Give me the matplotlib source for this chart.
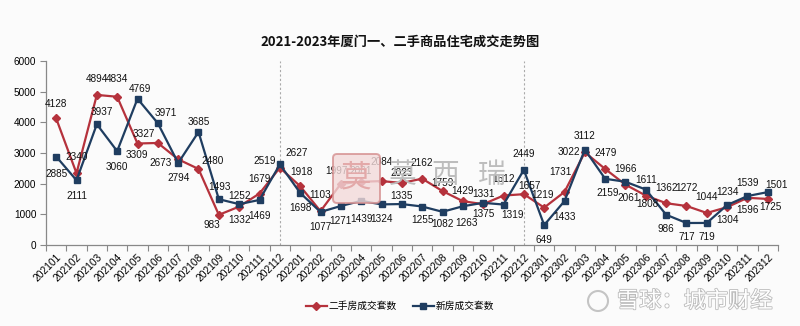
import matplotlib
matplotlib.use("Agg")
import matplotlib.pyplot as plt
import matplotlib.patheffects as pe
from matplotlib.patches import FancyBboxPatch

plt.rcParams['font.family'] = ['Liberation Sans', 'Noto Sans CJK SC', 'DejaVu Sans']

months = ['202101', '202102', '202103', '202104', '202105', '202106', '202107', '202108',
          '202109', '202110', '202111', '202112',
          '202201', '202202', '202203', '202204', '202205', '202206', '202207', '202208',
          '202209', '202210', '202211', '202212',
          '202301', '202302', '202303', '202304', '202305', '202306', '202307', '202308',
          '202309', '202310', '202311', '202312']

second_hand = [4128, 2340, 4894, 4834, 3309, 3327, 2794, 2480, 983, 1252, 1679, 2519,
               1918, 1103, 1997, 2061, 2084, 2023, 2162, 1759, 1429, 1331, 1612, 1657,
               1219, 1731, 3022, 2479, 1966, 1611, 1362, 1272, 1044, 1234, 1539, 1501]

new_home = [2885, 2111, 3937, 3060, 4769, 3971, 2673, 3685, 1493, 1332, 1469, 2627,
            1698, 1077, 1271, 1439, 1324, 1335, 1255, 1082, 1263, 1375, 1319, 2449,
            649, 1433, 3112, 2159, 2061, 1808, 986, 717, 719, 1304, 1596, 1725]

y_ticks = [0, 1000, 2000, 3000, 4000, 5000, 6000]

title = '2021-2023年厦门一、二手商品住宅成交走势图'
name_second = '二手房成交套数'
name_new = '新房成交套数'

# label offsets in pixels (dx, dy) - layout only
off_second = [(0, 14), (0, 16), (0, 16), (0, 18), (-1, -11), (-14, 9), (0, -19), (14, 8),
              (-7, -10), (0, 11), (0, 15), (-15, 7),
              (1, 14), (0, 16), (-4, 13), (0, 11), (0, 19), (0, 10), (0, 16), (0, 8),
              (0, 10), (0, 10), (0, 17), (6, 8),
              (-2, 13), (-4, 20), (-16, 0), (0, 16), (0, 16), (0, 16), (0, 15), (0, 18),
              (0, 16), (0, 15), (0, 15), (9, 14)]
off_new = [(0, -17), (0, -16), (5, 12), (0, -16), (2, 10), (8, 10), (-18, 0), (0, 10),
           (1, 12), (0, -16), (0, -16), (17, 11),
           (0, -15), (0, -15), (0, -15), (0, -18), (0, -15), (0, 8), (0, -13), (0, -12),
           (4, -17), (0, -11), (9, -10), (0, 16),
           (0, -15), (0, -16), (0, 14), (3, -14), (3, -16), (2, -14), (0, -14), (0, -14),
           (0, -14), (0, -15), (0, -14), (3, -15)]

RED = '#B5323C'
BLUE = '#1F3D60'
BG = '#FBFBFB'
H = 326

fig = plt.figure(figsize=(8.0, 3.26), dpi=100, facecolor=BG)
ax = fig.add_axes([0.0575, 0.2485, 0.915, 0.5644])
ax.set_facecolor(BG)

x = list(range(len(months)))

# watermark (center)
stamp = FancyBboxPatch((333, H - 203), 47, 49, boxstyle='round,pad=0,rounding_size=4',
                       transform=None, facecolor='#F3DADA', edgecolor='#D58F8F',
                       lw=1.4, alpha=0.8, zorder=0)
fig.patches.append(stamp)
fig.text(356.5 / 800, 1 - 178 / H, '莫', ha='center', va='center', fontsize=22,
         color='#E3A9A9', family=['Noto Sans CJK SC'], zorder=0)
for cx, ch in zip([403, 445, 492], ['莫', '西', '瑞']):
    fig.text(cx / 800, 1 - 175 / H, ch, ha='center', va='center', fontsize=20,
             color='#BDBDBD', family=['Noto Sans CJK SC'], zorder=0)

# dashed year separators
for idx in (11, 23):
    ax.axvline(idx, color='#AAAAAA', lw=0.8, ls=(0, (2, 2)), zorder=1)

ax.plot(x, second_hand, color=RED, lw=1.6, marker='D', markersize=3.6,
        markerfacecolor=RED, markeredgecolor=RED, label=name_second, zorder=3)
ax.plot(x, new_home, color=BLUE, lw=1.6, marker='s', markersize=4.6,
        markerfacecolor=BLUE, markeredgecolor=BLUE, label=name_new, zorder=4)

for i in x:
    ax.annotate(str(second_hand[i]), (i, second_hand[i]), xytext=off_second[i],
                textcoords='offset pixels', ha='center', va='center', fontsize=7.2,
                color='#111111', zorder=5)
    ax.annotate(str(new_home[i]), (i, new_home[i]), xytext=off_new[i],
                textcoords='offset pixels', ha='center', va='center', fontsize=7.2,
                color='#111111', zorder=5)

ax.set_xlim(-0.5, len(months) - 0.5)
ax.set_ylim(0, 6000)
ax.set_yticks(y_ticks)
ax.set_yticklabels([str(v) for v in y_ticks], fontsize=7.2)
ax.set_xticks(x)
ax.set_xticklabels(months, rotation=45, ha='right', rotation_mode='anchor', fontsize=7.4)
ax.set_xticks([i - 0.5 for i in range(len(months) + 1)], minor=True)
ax.tick_params(axis='x', which='major', length=0, pad=5)
ax.tick_params(axis='x', which='minor', length=4, color='#888888', width=0.8, direction='out')
ax.tick_params(axis='y', length=4, color='#888888', width=0.8, pad=3)

for s in ('top', 'right'):
    ax.spines[s].set_visible(False)
for s in ('left', 'bottom'):
    ax.spines[s].set_color('#888888')
    ax.spines[s].set_linewidth(0.9)

fig.text(0.5, 1 - 42 / H, title, ha='center', va='center', fontsize=9.5,
         fontweight='bold', family=['Noto Sans CJK SC'], color='#111111')

leg = fig.legend(loc='center', bbox_to_anchor=(0.5, 1 - 306 / H), ncol=2, frameon=False,
                 prop={'family': 'Noto Sans CJK SC', 'size': 7}, handlelength=2.2,
                 columnspacing=1.6, handletextpad=0.2)

fig.text(617 / 800, 1 - 301 / H, '雪球：城市财经', ha='left', va='center', fontsize=16,
         color='#FFFFFF', family=['Noto Sans CJK SC'],
         path_effects=[pe.withStroke(linewidth=1.2, foreground='#BBBBBB')])
circle = plt.Circle((598, H - 301), 10, transform=None, fill=False, edgecolor='#C4C4C4', lw=1.5)
fig.patches.append(circle)

fig.savefig('out.png', dpi=100, facecolor=BG)
